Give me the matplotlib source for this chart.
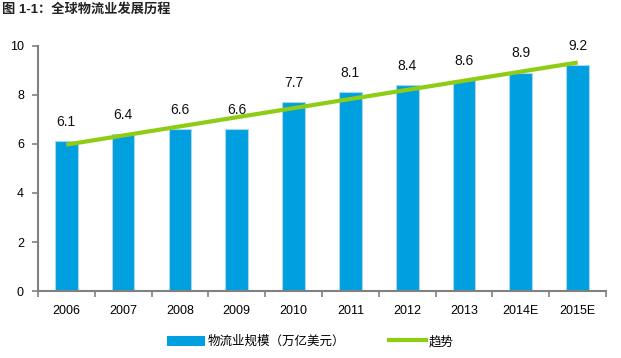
import numpy as np
import matplotlib.pyplot as plt
from matplotlib.patches import Patch
from matplotlib.lines import Line2D

plt.rcParams['font.family'] = ['Liberation Sans', 'Noto Sans CJK SC']

years = ['2006', '2007', '2008', '2009', '2010', '2011', '2012', '2013', '2014E', '2015E']
scale = [6.1, 6.4, 6.6, 6.6, 7.7, 8.1, 8.4, 8.6, 8.9, 9.2]
# trend line end points (first and last category)
trend_idx = [0, 9]
trend_val = [5.97, 9.32]

blue = '#009fdf'
green = '#8fcc14'
grey = '#808080'

fig = plt.figure(figsize=(6.21, 3.58), dpi=100)
ax = fig.add_axes([0.061, 0.187, 0.915, 0.685])

x = np.arange(len(years))
ax.bar(x, scale, width=0.4, color=blue, edgecolor='#a8d8f0', linewidth=0.8, zorder=2)
ax.plot(trend_idx, trend_val, color=green, linewidth=3, solid_capstyle='butt', zorder=3)

for i, v in enumerate(scale):
    ax.annotate(f'{v:.1f}', (i, v), xytext=(0, 9), textcoords='offset points',
                ha='center', va='bottom', fontsize=10, color='#111111')

ax.set_xlim(-0.5, len(years) - 0.5)
ax.set_ylim(0, 10)
ax.set_yticks([0, 2, 4, 6, 8, 10])
ax.set_xticks(x)
ax.set_xticklabels(years)
ax.set_xticks(np.arange(-0.5, len(years), 1), minor=True)
ax.tick_params(axis='x', which='major', length=0, pad=10, labelsize=9)
ax.tick_params(axis='x', which='minor', length=4, color=grey, width=1.2)
ax.tick_params(axis='y', length=4, color=grey, width=1.2, labelsize=9, pad=6)
for s in ['top', 'right']:
    ax.spines[s].set_visible(False)
for s in ['left', 'bottom']:
    ax.spines[s].set_color(grey)
    ax.spines[s].set_linewidth(1.5)

handles = [Patch(facecolor=blue, edgecolor='none'),
           Line2D([0], [0], color=green, linewidth=3)]
fig.legend(handles, ['物流业规模（万亿美元）', '趋势'], loc='center',
           bbox_to_anchor=(0.5, 0.045), ncol=2, frameon=False, fontsize=9,
           handlelength=3, handleheight=0.9, handletextpad=0.2, columnspacing=3.5)

fig.text(0.003, 0.975, '图 1-1：全球物流业发展历程', fontsize=9.5, fontweight='bold',
         ha='left', va='center', color='#222222')

plt.savefig('out.png', dpi=100)
